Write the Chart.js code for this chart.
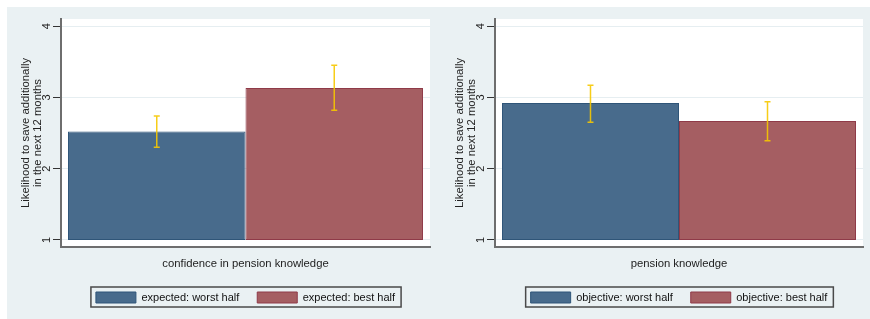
<!DOCTYPE html>
<html>
<head>
<meta charset="utf-8">
<script src="https://cdn.jsdelivr.net/npm/chart.js@4"></script>
<style>
  body { margin: 0; background: #fff; }
  #wrap { position: relative; width: 870px; height: 319px; }
  #bg { position: absolute; left: 7px; top: 7px; width: 863px; height: 312px; background: #eaf1f3; }
  canvas { position: absolute; top: 0; }
</style>
</head>
<body>
<div id="wrap">
  <div id="bg"></div>
  <canvas id="leftChart" width="435" height="319" style="left:0"></canvas>
  <canvas id="rightChart" width="436" height="319" style="left:434px"></canvas>
</div>
<script>
// dados
const yTicks = [1, 2, 3, 4];
const yTitle = ['Likelihood to save additionally', 'in the next 12 months'];

const leftLabels = ['expected: worst half', 'expected: best half'];
const leftMeans = [2.52, 3.13];
const leftLow = [2.30, 2.82];
const leftHigh = [2.74, 3.45];
const leftTitle = 'confidence in pension knowledge';

const rightLabels = ['objective: worst half', 'objective: best half'];
const rightMeans = [2.92, 2.67];
const rightLow = [2.65, 2.39];
const rightHigh = [3.17, 2.94];
const rightTitle = 'pension knowledge';

const baseValue = 1;
const fills = ['#486b8c', '#a55e62'];
const borders = ['#2f5578', '#8f3a48'];

// fundo branco da área de plotagem
const plotBg = {
  id: 'plotBg',
  beforeDraw(chart) {
    const { ctx, chartArea: a } = chart;
    ctx.save();
    ctx.fillStyle = '#ffffff';
    ctx.fillRect(a.left, a.top, a.right - a.left, a.bottom - a.top);
    ctx.restore();
  }
};

// barras de erro (amarelas)
const errorBars = {
  id: 'errorBars',
  afterDatasetsDraw(chart, args, opts) {
    const { ctx } = chart;
    const y = chart.scales.y;
    ctx.save();
    ctx.strokeStyle = 'rgba(246, 200, 0, 0.9)';
    ctx.lineWidth = 1.5;
    chart.data.datasets.forEach((ds, i) => {
      const bar = chart.getDatasetMeta(i).data[0];
      if (!bar) return;
      const x = bar.x;
      const y1 = y.getPixelForValue(opts.low[i]);
      const y2 = y.getPixelForValue(opts.high[i]);
      ctx.beginPath();
      ctx.moveTo(x, y1); ctx.lineTo(x, y2);
      ctx.moveTo(x - 3, y1); ctx.lineTo(x + 3, y1);
      ctx.moveTo(x - 3, y2); ctx.lineTo(x + 3, y2);
      ctx.stroke();
    });
    ctx.restore();
  }
};

// moldura da legenda
const legendBox = {
  id: 'legendBox',
  afterDraw(chart) {
    const hb = chart.legend && chart.legend.legendHitBoxes;
    if (!hb || !hb.length) return;
    const first = hb[0], last = hb[hb.length - 1];
    const x0 = first.left - 5;
    const x1 = last.left + last.width + 6;
    const y0 = first.top - 5;
    const y1 = first.top + first.height + 4;
    const ctx = chart.ctx;
    ctx.save();
    ctx.strokeStyle = '#4a4a4a';
    ctx.lineWidth = 1.5;
    ctx.strokeRect(x0, y0, x1 - x0, y1 - y0);
    ctx.restore();
  }
};

function criarPainel(id, labels, means, low, high, xTitle, padRight) {
  const ctx = document.getElementById(id).getContext('2d');
  return new Chart(ctx, {
    type: 'bar',
    data: {
      labels: [''],
      datasets: labels.map((lab, i) => ({
        label: lab,
        data: [[baseValue, means[i]]],
        backgroundColor: fills[i],
        borderColor: borders[i],
        borderWidth: 1,
        borderSkipped: false,
        categoryPercentage: 0.962,
        barPercentage: 1.0
      }))
    },
    options: {
      responsive: false,
      animation: false,
      devicePixelRatio: 1,
      layout: { padding: { left: 0, top: 19, right: padRight, bottom: 6 } },
      scales: {
        x: {
          grid: { display: false },
          border: { display: true, color: '#6e6e6e', width: 2 },
          ticks: { display: false },
          title: {
            display: true,
            text: xTitle,
            color: '#222',
            font: { family: 'Liberation Sans, Arial, sans-serif', size: 11.3 },
            padding: { top: 0, bottom: 3 }
          },
          afterFit(scale) { scale.height = 27; }
        },
        y: {
          min: 0.9,
          max: 4.1,
          afterBuildTicks(scale) { scale.ticks = yTicks.map(v => ({ value: v })); },
          grid: {
            color: '#e6eef1',
            lineWidth: 1,
            tickColor: '#333',
            tickLength: 8,
            tickWidth: 1
          },
          border: { display: true, color: '#6e6e6e', width: 2 },
          ticks: {
            color: '#222',
            minRotation: 90,
            maxRotation: 90,
            crossAlign: 'center',
            padding: 3,
            font: { family: 'Liberation Sans, Arial, sans-serif', size: 11 }
          },
          title: {
            display: true,
            text: yTitle,
            color: '#222',
            font: { family: 'Liberation Sans, Arial, sans-serif', size: 11.3, lineHeight: 1.06 },
            padding: { top: 20, bottom: 0 }
          },
          afterFit(scale) { scale.width = 61; }
        }
      },
      plugins: {
        legend: {
          position: 'bottom',
          fullSize: false,
          labels: {
            boxWidth: 40,
            boxHeight: 11,
            padding: 18,
            color: '#111',
            font: { family: 'Liberation Sans, Arial, sans-serif', size: 11 }
          }
        },
        tooltip: { enabled: false },
        errorBars: { low, high }
      }
    },
    plugins: [plotBg, errorBars, legendBox]
  });
}

criarPainel('leftChart', leftLabels, leftMeans, leftLow, leftHigh, leftTitle, 5);
criarPainel('rightChart', rightLabels, rightMeans, rightLow, rightHigh, rightTitle, 7);
</script>
</body>
</html>
